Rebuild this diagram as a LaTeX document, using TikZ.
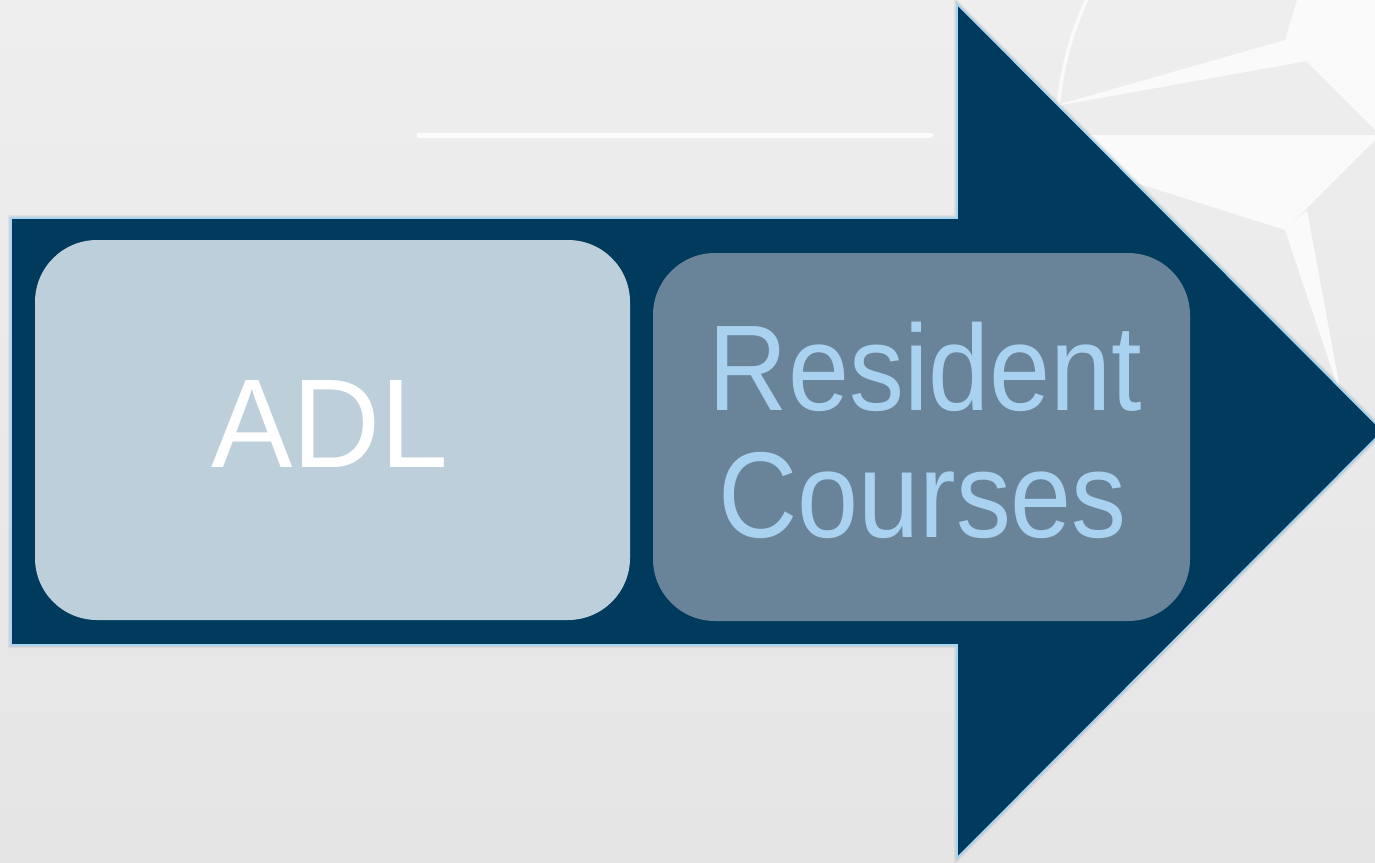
\documentclass[tikz,border=0pt]{standalone}
\usepackage{fontspec}
\setmainfont{Liberation Sans}
\definecolor{bgtop}{HTML}{EEEEEE}
\definecolor{bgbot}{HTML}{E5E5E5}
\definecolor{navy}{HTML}{003A5C}
\definecolor{edgeblue}{HTML}{A6D6F4}
\definecolor{adlfill}{HTML}{BCCFDA}
\definecolor{resfill}{HTML}{698398}
\definecolor{restext}{HTML}{A9D2F0}
\definecolor{starwhite}{HTML}{FAFAFA}
\tikzset{
  roundbox/.style={draw=none, inner sep=0pt, rounded corners=62pt},
  adlbox/.style={roundbox, fill=adlfill, minimum width=595pt, minimum height=380pt},
  resbox/.style={roundbox, fill=resfill, minimum width=537pt, minimum height=368pt},
  bigtext/.style={anchor=base, inner sep=0pt},
  starpart/.style={fill=starwhite},
  arrowshadow/.style={draw=black, line join=miter},
}
\begin{document}
\begin{tikzpicture}[x=1pt,y=-1pt]
\useasboundingbox (0,0) rectangle (1375,862);
\clip (0,0) rectangle (1375,862);
\shade[top color=bgtop, bottom color=bgbot] (0,0) rectangle (1375,862);

% faint compass star in the background
\coordinate (sc) at (1380,135);
\coordinate (sw) at (985,135);
\coordinate (sn) at (1380,-276);
\coordinate (ss) at (1380,546);
\coordinate (snw) at (1285,40);
\coordinate (ssw) at (1285,230);
\coordinate (wa) at (1307,61);
\coordinate (wb) at (1307,210);
\coordinate (wap) at (1050,107);
\coordinate (wbp) at (1342,400);
\begin{scope}
\clip (1000,-10) rectangle (1200,120);
\draw[starwhite, line width=3.5pt] (sc) circle[radius=323pt];
\end{scope}
\fill[starpart] (sc) -- (sw) -- (ssw) -- cycle;
\fill[starpart] (sc) -- (snw) -- (sn) -- cycle;
\fill[starpart] (wap) -- (snw) -- (wa) -- cycle;
\fill[starpart] (wbp) -- (ssw) -- (wb) -- cycle;

% white rule
\coordinate (l1) at (419,135);
\coordinate (l2) at (931,135);
\draw[white, opacity=0.85, line width=5pt, line cap=round] (l1) -- (l2);

% arrow
\coordinate (a1) at (11,218);
\coordinate (a2) at (957,218);
\coordinate (a3) at (957,4);
\coordinate (a4) at (1383,431);
\coordinate (a5) at (957,858);
\coordinate (a6) at (957,645);
\coordinate (a7) at (11,645);
\begin{scope}[shift={(1pt,-2.5pt)}]
\draw[arrowshadow, opacity=0.05, line width=6pt] (a1) -- (a2) -- (a3) -- (a4) -- (a5) -- (a6) -- (a7) -- cycle;
\draw[arrowshadow, opacity=0.08, line width=3pt] (a1) -- (a2) -- (a3) -- (a4) -- (a5) -- (a6) -- (a7) -- cycle;
\end{scope}
\path[fill=navy, draw=edgeblue, line width=1.6pt, line join=miter] (a1) -- (a2) -- (a3) -- (a4) -- (a5) -- (a6) -- (a7) -- cycle;

% boxes
\node[adlbox] (adl) at (332.5,430) {};
\node[resbox] (res) at (921.5,437) {};

% texts
\node[bigtext, text=white, font=\fontsize{126.5}{126.5}\selectfont] (adltext) at (330,467) {\scalebox{0.965}[1]{ADL}};
\node[bigtext, text=restext, font=\fontsize{122}{122}\selectfont] (restext1) at (925.5,410) {\scalebox{0.9}[1]{Resident}};
\node[bigtext, text=restext, font=\fontsize{122}{122}\selectfont] (restext2) at (922.5,537) {\scalebox{0.9}[1]{Courses}};
\end{tikzpicture}
\end{document}
